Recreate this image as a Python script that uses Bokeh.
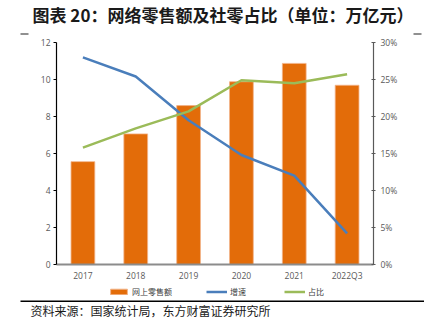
from bokeh.plotting import figure
from bokeh.layouts import column
from bokeh.models import (Range1d, LinearAxis, FixedTicker, PrintfTickFormatter,
                          Legend, LegendItem, ColumnDataSource, FactorRange)
from bokeh.core.properties import value
from bokeh.embed import file_html
from bokeh.resources import INLINE

categories = ["2017", "2018", "2019", "2020", "2021", "2022Q3"]
online_retail = [5.56, 7.06, 8.59, 9.88, 10.87, 9.69]   # 万亿元
growth = [28.0, 25.4, 19.5, 14.8, 12.0, 4.2]            # %
share = [15.8, 18.4, 20.7, 24.9, 24.5, 25.7]            # %

left_ticks = [0, 2, 4, 6, 8, 10, 12]
right_ticks = [0, 5, 10, 15, 20, 25, 30]

title_text = "图表 20：网络零售额及社零占比（单位：万亿元）"
source_text = "资料来源：国家统计局，东方财富证券研究所"
legend_labels = ["网上零售额", "增速", "占比"]

ORANGE = "#E36C09"
BLUE = "#4A7EBB"
GREEN = "#9BBB59"
TICK_FONT = "Open Sans"
CJK = "Noto Sans CJK SC"

W = 424
HEAD_H = 36
MAIN_H = 247
FOOT_H = 323 - HEAD_H - MAIN_H

src = ColumnDataSource(dict(cat=categories, val=online_retail, g=growth, s=share))

# ---------- header ----------
head = figure(width=W, height=HEAD_H, x_range=Range1d(0, W), y_range=Range1d(HEAD_H, 0),
              output_backend="svg", toolbar_location=None, x_axis_type=None,
              y_axis_type=None, min_border=0, frame_align=False)
head.outline_line_color = None
head.grid.grid_line_color = None
head.text(x=[32], y=[13.5], text=[title_text], text_font=value(CJK), text_font_style="bold",
          text_font_size="17px", text_color="#1a1a1a", text_baseline="middle", text_align="left")
head.segment(x0=[20, 413], y0=[33.5, 33.5], x1=[28, 421], y1=[33.5, 33.5], line_color="#222222",
             line_width=1.2)

# ---------- main chart ----------
p = figure(width=W, height=MAIN_H, x_range=FactorRange(*categories, range_padding=0),
           y_range=Range1d(0, 12), output_backend="svg", toolbar_location=None,
           min_border_left=56, min_border_right=51, min_border_top=6, min_border_bottom=18)
p.outline_line_color = None
p.grid.grid_line_color = None
p.extra_y_ranges = {"pct": Range1d(0, 30)}

p.vbar(x="cat", top="val", width=0.45, source=src, fill_color=ORANGE,
       line_color="#F2B48A", line_width=0.8)
p.line(x="cat", y="g", source=src, y_range_name="pct", line_color=BLUE, line_width=2.5)
p.line(x="cat", y="s", source=src, y_range_name="pct", line_color=GREEN, line_width=2.5)

xa = p.xaxis[0]
xa.axis_line_color = "#8C8C8C"
xa.axis_line_width = 2
xa.major_tick_line_color = None
xa.major_tick_in = 0
xa.major_tick_out = 0
xa.minor_tick_line_color = None
xa.minor_tick_out = 0
xa.major_label_text_font = TICK_FONT
xa.major_label_text_font_size = "8.5px"
xa.major_label_text_color = "#595959"
xa.major_label_standoff = 5

ya = p.yaxis[0]
ya.ticker = FixedTicker(ticks=left_ticks)
ya.axis_line_color = "black"
ya.axis_line_width = 1.2
ya.major_tick_in = 0
ya.major_tick_out = 3
ya.major_tick_line_color = "black"
ya.minor_tick_line_color = None
ya.major_label_text_font = TICK_FONT
ya.major_label_text_font_size = "8.5px"
ya.major_label_text_color = "#595959"
ya.major_label_standoff = 3

ra = LinearAxis(y_range_name="pct", ticker=FixedTicker(ticks=right_ticks),
                formatter=PrintfTickFormatter(format="%d%%"))
ra.axis_line_color = "#595959"
ra.axis_line_width = 1.2
ra.major_tick_in = 2
ra.major_tick_out = 2
ra.major_tick_line_color = "#595959"
ra.minor_tick_line_color = None
ra.major_label_text_font = TICK_FONT
ra.major_label_text_font_size = "8.5px"
ra.major_label_text_color = "#595959"
ra.major_label_standoff = 5
p.add_layout(ra, "right")

# ---------- footer: legend, rule, source ----------
N = len(categories)


def fx(px):  # footer pixel column -> categorical synthetic coordinate (0..N spans the width)
    return px * N / W


foot = figure(width=W, height=FOOT_H, x_range=FactorRange(*categories, range_padding=0),
              y_range=Range1d(FOOT_H, 0), output_backend="svg", toolbar_location=None,
              x_axis_type=None, y_axis_type=None, min_border=0, frame_align=False)
foot.outline_line_color = None
foot.grid.grid_line_color = None
# legend keys: the same series, drawn on a range that keeps them out of the footer's view
foot.extra_y_ranges = {"hide": Range1d(1000, 2000)}
kb = foot.vbar(x="cat", top="val", width=0.45, source=src, y_range_name="hide",
               fill_color=ORANGE, line_color="#F2B48A")
k1 = foot.line(x="cat", y="g", source=src, y_range_name="hide", line_color=BLUE, line_width=2.5)
k2 = foot.line(x="cat", y="s", source=src, y_range_name="hide", line_color=GREEN, line_width=2.5)
legend = Legend(items=[LegendItem(label=legend_labels[0], renderers=[kb]),
                       LegendItem(label=legend_labels[1], renderers=[k1]),
                       LegendItem(label=legend_labels[2], renderers=[k2])],
                orientation="horizontal", location=(108, FOOT_H - 14),
                label_text_font=CJK, label_text_font_size="8px", label_text_color="#404040",
                glyph_width=21, glyph_height=7, label_standoff=3, spacing=34,
                padding=0, margin=0, border_line_color=None, background_fill_alpha=0,
                label_height=8)
foot.add_layout(legend, "center")
foot.segment(x0=[fx(20)], y0=[17.7], x1=[fx(W)], y1=[17.7], line_color="black", line_width=1.5)
foot.text(x=[fx(30)], y=[26.5], text=[source_text], text_font=value(CJK), text_font_size="12px",
          text_color="#1a1a1a", text_baseline="middle", text_align="left")

layout = column(head, p, foot, spacing=0)
open("out.html", "w").write(file_html(layout, INLINE))
